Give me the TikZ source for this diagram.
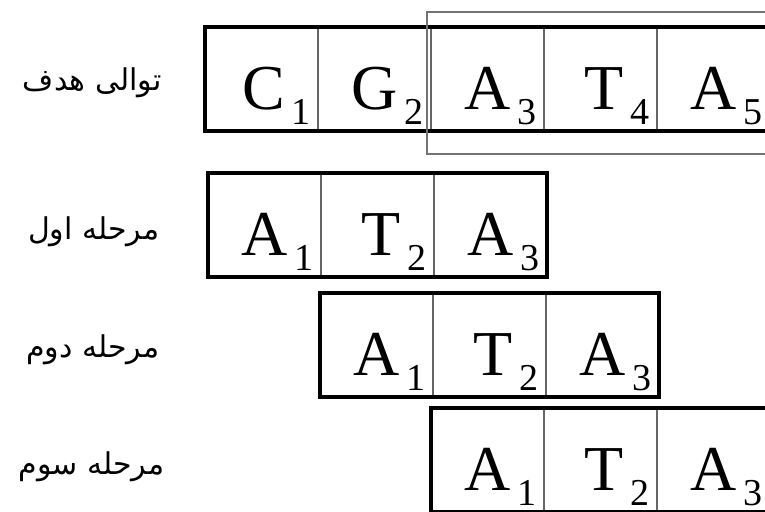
\documentclass[tikz,border=0pt]{standalone}
\usepackage{fontspec}
\setmainfont{Liberation Serif}
\newfontfamily\farsi[Script=Arabic]{DejaVu Sans}
\TeXXeTstate=1
\usetikzlibrary{positioning, calc}
\tikzset{
    cell/.style={
        draw=black!60,
        line width=1.2pt,
        outer sep=0pt,
        inner sep=0pt,
        minimum width=113pt,
        minimum height=104pt,
        text width=97pt,
        align=right,
        text height=60pt,
        text depth=0pt,
        font=\rmfamily\fontsize{64}{64}\selectfont,
    },
    frame/.style={
        draw=black,
        line width=4pt,
    },
    hilite/.style={
        draw=black!55,
        line width=2.5pt,
    },
    rowlabel/.style={
        anchor=east,
        font=\farsi\fontsize{30}{34}\selectfont,
    },
}
\newcommand{\nt}[2]{#1\kern6pt\raisebox{-15pt}{\rmfamily\fontsize{38}{38}\selectfont #2}}

\begin{document}
\begin{tikzpicture}[x=1pt, y=-1pt]
    \useasboundingbox (0,0) rectangle (765,511);
    \clip (0,0) rectangle (765,511);

    % target sequence
    \node[cell, anchor=north west] (t1) at (205,27) {\nt{C}{1}};
    \node[cell, right=0pt of t1] (t2) {\nt{G}{2}};
    \node[cell, right=0pt of t2] (t3) {\nt{A}{3}};
    \node[cell, right=0pt of t3] (t4) {\nt{T}{4}};
    \node[cell, right=0pt of t4] (t5) {\nt{A}{5}};
    \draw[frame] (t1.north west) rectangle (t5.south east);
    \draw[hilite] ($(t3.north west)+(-4,-15)$) rectangle ($(t5.south east)+(20,23)$);

    % step 1
    \node[cell, anchor=north west] (a1) at (208,173) {\nt{A}{1}};
    \node[cell, right=0pt of a1] (a2) {\nt{T}{2}};
    \node[cell, right=0pt of a2] (a3) {\nt{A}{3}};
    \draw[frame] (a1.north west) rectangle (a3.south east);

    % step 2
    \node[cell, anchor=north west] (b1) at (320,293) {\nt{A}{1}};
    \node[cell, right=0pt of b1] (b2) {\nt{T}{2}};
    \node[cell, right=0pt of b2] (b3) {\nt{A}{3}};
    \draw[frame] (b1.north west) rectangle (b3.south east);

    % step 3
    \node[cell, anchor=north west] (c1) at (431,408) {\nt{A}{1}};
    \node[cell, right=0pt of c1] (c2) {\nt{T}{2}};
    \node[cell, right=0pt of c2] (c3) {\nt{A}{3}};
    \draw[frame] (c1.north west) rectangle (c3.south east);

    % row labels
    \node[rowlabel] (l0) at (165,83) {\beginR توالی هدف\endR};
    \node[rowlabel] (l1) at (163,232) {\beginR مرحله اول\endR};
    \node[rowlabel] (l2) at (163,350) {\beginR مرحله دوم\endR};
    \node[rowlabel] (l3) at (168,467) {\beginR مرحله سوم\endR};
\end{tikzpicture}
\end{document}
